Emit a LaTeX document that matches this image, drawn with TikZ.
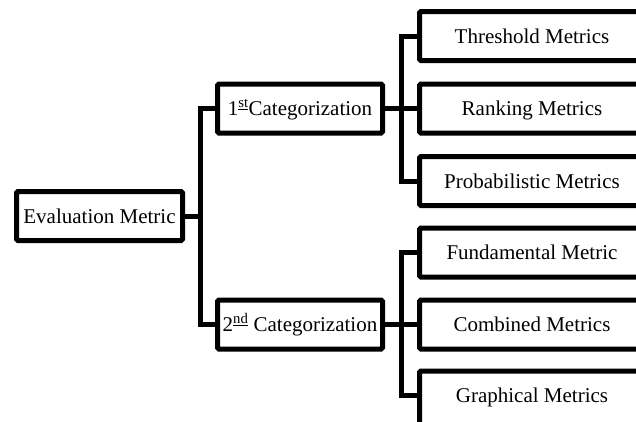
\documentclass[tikz,border=0pt]{standalone}
\usepackage{fontspec}
\setmainfont{Liberation Serif}
\begin{document}
\begin{tikzpicture}[x=1pt,y=-1pt,
  box/.style={draw=black, line width=5pt, rounded corners=1.5pt, fill=white,
    minimum height=49pt, inner sep=0pt, text height=14pt, text depth=0pt,
    font=\fontsize{21}{25}\selectfont},
  midbox/.style={box, minimum width=165pt},
  leafbox/.style={box, minimum width=230pt},
  link/.style={draw=black, line width=5pt}]
\useasboundingbox (0,0) rectangle (636,421);
\clip (0,0) rectangle (636,421);

% root and first level
\node[box, minimum width=166pt] (eval) at (99.5,216) {Evaluation Metric};
\node[midbox] (cat1) at (300,108.5) {1\textsuperscript{\underline{st}}Categorization};
\node[midbox] (cat2) at (300,324.5) {2\textsuperscript{\underline{nd}} Categorization};

% leaves (the last one runs off the lower edge)
\node[leafbox] (thr)  at (534.5,36)    {\hspace*{-5pt}Threshold Metrics};
\node[leafbox] (rank) at (534.5,108.5) {\hspace*{-5pt}Ranking Metrics};
\node[leafbox] (prob) at (534.5,181)   {\hspace*{-5pt}Probabilistic Metrics};
\node[leafbox] (fund) at (534.5,252.5) {\hspace*{-5pt}Fundamental Metric};
\node[leafbox] (comb) at (534.5,324.5) {\hspace*{-5pt}Combined Metrics};
\node[leafbox, minimum height=60pt, text depth=11pt] (graph) at (534.5,401)
  {\hspace*{-5pt}Graphical Metrics};

% junction points on the trunks
\coordinate (j0) at (200,216);
\coordinate (j1) at (401,108.5);
\coordinate (j2) at (401,324.5);
\coordinate (gin) at (419.5,395.5);

% connectors
\draw[link] (eval.east) -- (j0);
\draw[link] (cat1.west) -| (j0) |- (cat2.west);
\draw[link] (cat1.east) -- (j1);
\draw[link] (thr.west) -| (j1) |- (prob.west);
\draw[link] (j1) -- (rank.west);
\draw[link] (cat2.east) -- (j2);
\draw[link] (fund.west) -| (j2) |- (gin);
\draw[link] (j2) -- (comb.west);
\end{tikzpicture}
\end{document}
